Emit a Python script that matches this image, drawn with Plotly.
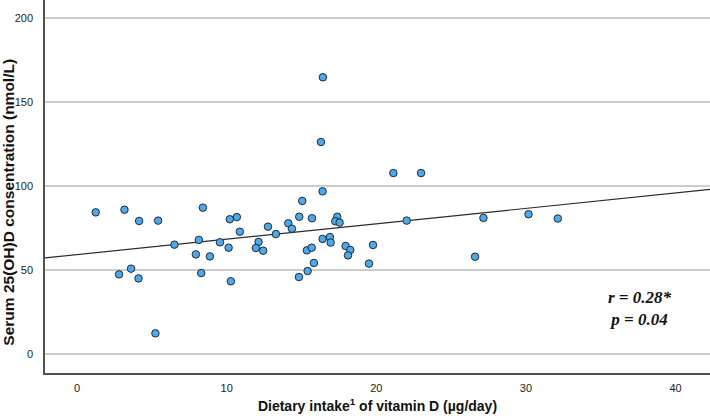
import numpy as np
import plotly.graph_objects as go

intake = [1.25, 3.17, 4.15, 5.42, 8.41, 10.21, 10.68, 10.88, 6.51, 8.14,
          7.94, 8.88, 9.55, 10.13, 8.30, 10.28, 2.81, 3.61, 4.11, 5.24,
          12.76, 13.29, 12.13, 11.95, 12.44, 14.12, 14.36, 14.85, 15.05, 15.70,
          16.41, 16.41, 15.36, 15.68, 15.83, 15.41, 14.83, 16.90, 16.95, 17.39,
          17.26, 17.55, 17.95, 18.26, 18.11, 16.43, 16.30, 21.14, 22.99, 22.03,
          19.78, 19.51, 27.16, 30.17, 32.13, 26.60]
serum = [84.3, 85.9, 79.2, 79.4, 87.1, 80.2, 81.5, 72.8, 65.1, 67.9,
         59.3, 58.1, 66.5, 63.3, 48.2, 43.3, 47.4, 50.8, 45.0, 12.3,
         75.8, 71.4, 66.7, 63.1, 61.5, 77.8, 74.6, 81.7, 91.1, 80.8,
         96.8, 68.5, 61.7, 63.3, 54.2, 49.4, 45.8, 69.6, 66.3, 81.7,
         79.0, 78.2, 64.3, 61.9, 58.7, 164.7, 126.2, 107.7, 107.7, 79.4,
         64.9, 53.8, 81.0, 83.2, 80.6, 57.9]
x_ticks = [0, 10, 20, 30, 40]
y_ticks = [0, 50, 100, 150, 200]
stats_text = "r = 0.28*<br>p = 0.04"
x_title = "Dietary intake<sup>1</sup> of vitamin D (µg/day)"
y_title = "Serum 25(OH)D consentration (nmol/L)"

x_range = [-2.14, 42.3]
y_range = [-11.3, 210.7]

slope, intercept = np.polyfit(intake, serum, 1)
line_x = np.array(x_range)
line_y = intercept + slope * line_x

fig = go.Figure()
fig.add_trace(go.Scatter(
    x=line_x, y=line_y, mode="lines",
    line=dict(color="#2b2b2b", width=1.2), hoverinfo="skip", showlegend=False))
fig.add_trace(go.Scatter(
    x=intake, y=serum, mode="markers",
    marker=dict(size=7.5, color="#4da9e8", line=dict(color="#1e2a36", width=1)),
    showlegend=False))

fig.add_annotation(
    x=0.894, y=0.174, xref="paper", yref="paper",
    xanchor="center", yanchor="middle",
    text="<b><i>" + stats_text + "</i></b>", showarrow=False,
    font=dict(family="Liberation Serif", size=17, color="#111111"),
    align="center")

fig.add_annotation(
    x=-0.0549, y=0.458, xref="paper", yref="paper",
    xanchor="center", yanchor="middle", textangle=-90,
    text="<b>" + y_title + "</b>", showarrow=False,
    font=dict(family="Liberation Sans", size=15.5, color="#111111"))

fig.update_layout(
    width=710, height=416,
    margin=dict(l=45, r=0, t=0, b=43),
    paper_bgcolor="white", plot_bgcolor="white",
    font=dict(family="Liberation Sans", color="#111111"),
    xaxis=dict(
        range=x_range, tickvals=x_ticks, showgrid=False, zeroline=False,
        showline=True, linecolor="#505050", linewidth=1.5,
        ticks="", tickfont=dict(size=11, color="#222222"),
        ticklabelstandoff=4, automargin=False,
        title=dict(text="<b>" + x_title + "</b>",
                   font=dict(size=14), standoff=8)),
    yaxis=dict(
        range=y_range, tickvals=y_ticks, showgrid=True, gridcolor="#cccccc",
        gridwidth=1.5, zeroline=False,
        showline=True, linecolor="#505050", linewidth=1.5,
        ticks="", tickfont=dict(size=11, color="#222222"),
        ticklabelstandoff=8, automargin=False),
)

fig.write_html("out.html", config={"displayModeBar": False},
               post_script="document.body.style.margin='0';")
